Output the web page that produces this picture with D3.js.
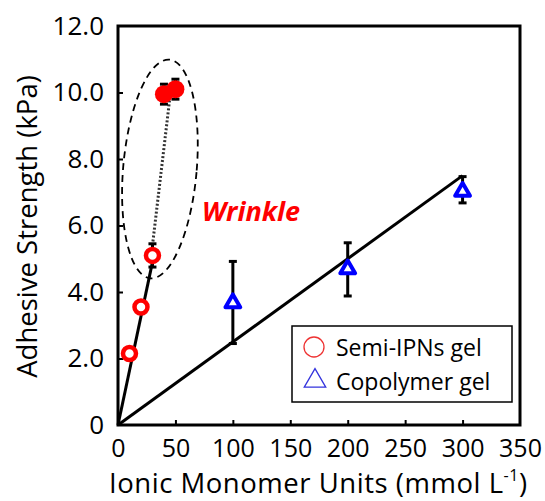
<!DOCTYPE html>
<html>
<head>
<meta charset="utf-8">
<script src="https://cdn.jsdelivr.net/npm/d3@7"></script>
<style>
  body { margin: 0; background: #fff; }
  text { font-family: "Open Sans", sans-serif; }
</style>
</head>
<body>
<svg id="chart"></svg>
<script>
// semi-IPNs gel (red circles)
const semiX = [10, 20, 30];
const semiY = [2.15, 3.55, 5.1];
const semiErr = [0, 0, 0.35];
// wrinkled points (filled)
const wrinkX = [40, 50];
const wrinkY = [9.95, 10.1];
const wrinkErr = [0.3, 0.3];
// copolymer gel (blue triangles)
const copoX = [100, 200, 300];
const copoY = [3.7, 4.72, 7.05];
const copoLo = [2.45, 3.88, 6.68];
const copoHi = [4.92, 5.48, 7.47];
// trend lines
const semiLine = [[0, 0], [30, 4.9]];
const copoLine = [[0, 0], [300, 7.5]];
const dotLine = [[30, 5.4], [45, 9.8]];

const xTicks = [0, 50, 100, 150, 200, 250, 300, 350];
const yTicks = [0, 2, 4, 6, 8, 10, 12];

const svg = d3.select("#chart").attr("width", 545).attr("height", 501);

const x = d3.scaleLinear().domain([0, 350]).range([118, 520]);
const y = d3.scaleLinear().domain([0, 12]).range([425, 26]);

// axes with inward ticks
const xAxis = svg.append("g")
  .attr("transform", `translate(0,${y(0)})`)
  .call(d3.axisBottom(x).tickValues(xTicks).tickSizeInner(-5).tickSizeOuter(0).tickPadding(14.5));
const yAxis = svg.append("g")
  .attr("transform", `translate(${x(0)},0)`)
  .call(d3.axisLeft(y).tickValues(yTicks).tickSizeInner(-5).tickSizeOuter(0).tickPadding(14)
    .tickFormat(d => d === 0 ? "0" : d.toFixed(1)));

[xAxis, yAxis].forEach(g => {
  g.select(".domain").remove();
  g.selectAll(".tick line").attr("stroke", "#000").attr("stroke-width", 2);
  g.selectAll(".tick text").attr("fill", "#000").attr("font-size", 26)
    .attr("font-family", "Open Sans, sans-serif");
});
xAxis.selectAll(".tick text").attr("font-size", 25);
xAxis.selectAll(".tick").filter(d => d === 0 || d === 350).select("line").remove();
yAxis.selectAll(".tick").filter(d => d === 0 || d === 12).select("line").remove();

// frame
svg.append("rect")
  .attr("x", x(0)).attr("y", y(12))
  .attr("width", x(350) - x(0)).attr("height", y(0) - y(12))
  .attr("fill", "none").attr("stroke", "#000").attr("stroke-width", 3);

// axis titles
svg.append("text")
  .attr("transform", `translate(37,${(y(0) + y(12)) / 2 + 1}) rotate(-90)`)
  .attr("text-anchor", "middle")
  .attr("font-size", 27.5)
  .text("Adhesive Strength (kPa)");

const xt = svg.append("text")
  .attr("x", (x(0) + x(350)) / 2 - 1).attr("y", 493)
  .attr("text-anchor", "middle")
  .attr("font-size", 27.5)
  .attr("textLength", 418).attr("lengthAdjust", "spacing");
xt.append("tspan").text("Ionic Monomer Units (mmol L");
xt.append("tspan").attr("font-size", 16).attr("dy", -12).text("-1");
xt.append("tspan").attr("dy", 12).text(")");

const line = d3.line().x(d => x(d[0])).y(d => y(d[1]));

// trend lines
svg.append("path").attr("d", line(semiLine))
  .attr("fill", "none").attr("stroke", "#000").attr("stroke-width", 3);
svg.append("path").attr("d", line(copoLine))
  .attr("fill", "none").attr("stroke", "#000").attr("stroke-width", 3);
svg.append("path").attr("d", line(dotLine))
  .attr("fill", "none").attr("stroke", "#333").attr("stroke-width", 3)
  .attr("stroke-dasharray", "2,2");

// dashed ellipse around the wrinkle region
const ell = { cx: 36.5, cy: 7.7, rx: 32, ry: 3.3 };
svg.append("ellipse")
  .attr("cx", x(ell.cx)).attr("cy", y(ell.cy))
  .attr("rx", x(ell.rx) - x(0)).attr("ry", y(0) - y(ell.ry))
  .attr("transform", `rotate(5,${x(ell.cx)},${y(ell.cy)})`)
  .attr("fill", "none").attr("stroke", "#000").attr("stroke-width", 1.8)
  .attr("stroke-dasharray", "7,5");

svg.append("text")
  .attr("x", 251).attr("y", 221)
  .attr("text-anchor", "middle")
  .attr("font-size", 27).attr("font-weight", "bold").attr("font-style", "italic")
  .attr("fill", "#f00")
  .text("Wrinkle");

// error bars
function errBar(xv, lo, hi) {
  const g = svg.append("g").attr("stroke", "#000").attr("stroke-width", 3);
  g.append("line").attr("x1", x(xv)).attr("x2", x(xv)).attr("y1", y(lo)).attr("y2", y(hi));
  g.append("line").attr("x1", x(xv) - 4).attr("x2", x(xv) + 4).attr("y1", y(lo)).attr("y2", y(lo));
  g.append("line").attr("x1", x(xv) - 4).attr("x2", x(xv) + 4).attr("y1", y(hi)).attr("y2", y(hi));
}
semiX.forEach((d, i) => { if (semiErr[i] > 0) errBar(d, semiY[i] - semiErr[i], semiY[i] + semiErr[i]); });
wrinkX.forEach((d, i) => errBar(d, wrinkY[i] - wrinkErr[i], wrinkY[i] + wrinkErr[i]));
copoX.forEach((d, i) => errBar(d, copoLo[i], copoHi[i]));

// markers
svg.selectAll(".semi").data(semiX).enter().append("circle")
  .attr("cx", d => x(d)).attr("cy", (d, i) => y(semiY[i]))
  .attr("r", 6.5).attr("fill", "#fff").attr("stroke", "#f00").attr("stroke-width", 4.5);

svg.selectAll(".wrink").data(wrinkX).enter().append("circle")
  .attr("cx", d => x(d)).attr("cy", (d, i) => y(wrinkY[i]))
  .attr("r", 9).attr("fill", "#f00");

const tri = d3.symbol().type(d3.symbolTriangle).size(95);
svg.selectAll(".copo").data(copoX).enter().append("path")
  .attr("d", tri)
  .attr("transform", (d, i) => `translate(${x(d)},${y(copoY[i]) + 1})`)
  .attr("fill", "#fff").attr("stroke", "#00f").attr("stroke-width", 4)
  .attr("stroke-linejoin", "round");

// legend
const lg = svg.append("g");
lg.append("rect").attr("x", 292).attr("y", 326).attr("width", 220).attr("height", 76)
  .attr("fill", "#fff").attr("stroke", "#000").attr("stroke-width", 1.5);
lg.append("circle").attr("cx", 314).attr("cy", 347).attr("r", 10)
  .attr("fill", "none").attr("stroke", "#e33").attr("stroke-width", 1.3);
lg.append("path").attr("d", d3.symbol().type(d3.symbolTriangle).size(200)())
  .attr("transform", "translate(315,381)")
  .attr("fill", "none").attr("stroke", "#33d").attr("stroke-width", 1.3);
lg.append("text").attr("x", 336).attr("y", 356).attr("font-size", 23).text("Semi-IPNs gel");
lg.append("text").attr("x", 336).attr("y", 390).attr("font-size", 23).text("Copolymer gel");
</script>
</body>
</html>
